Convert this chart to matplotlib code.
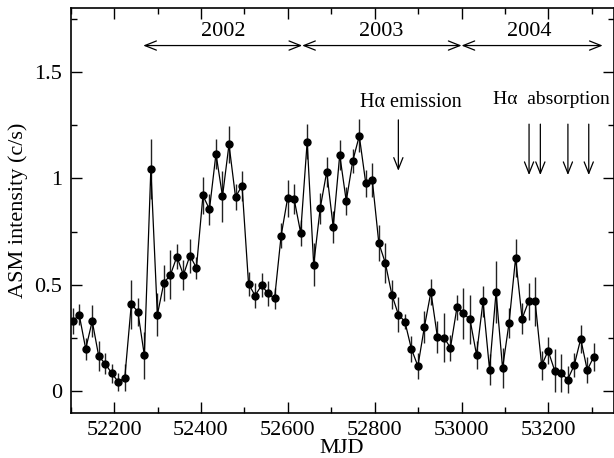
import numpy as np
import matplotlib
matplotlib.use('Agg')
import matplotlib.pyplot as plt
from matplotlib.ticker import MultipleLocator, FuncFormatter

plt.rcParams['font.family'] = ['Liberation Serif', 'DejaVu Serif']

# ASM light curve, 15-day bins
mjd = [52104.5, 52119.5, 52134.5, 52149.5, 52164.5, 52179.5, 52194.5, 52209.5, 52224.5,
       52239.5, 52254.5, 52269.5, 52284.5, 52299.5, 52314.5, 52329.5, 52344.5, 52359.5,
       52374.5, 52389.5, 52404.5, 52419.5, 52434.5, 52449.5, 52464.5, 52479.5, 52494.5,
       52509.5, 52524.5, 52539.5, 52554.5, 52569.5, 52584.5, 52599.5, 52614.5, 52629.5,
       52644.5, 52659.5, 52674.5, 52689.5, 52704.5, 52719.5, 52734.5, 52749.5, 52764.5,
       52779.5, 52794.5, 52809.5, 52824.5, 52839.5, 52854.5, 52869.5, 52884.5, 52899.5,
       52914.5, 52929.5, 52944.5, 52959.5, 52974.5, 52989.5, 53004.5, 53019.5, 53034.5,
       53049.5, 53064.5, 53079.5, 53094.5, 53109.5, 53124.5, 53139.5, 53154.5, 53169.5,
       53184.5, 53199.5, 53214.5, 53229.5, 53244.5, 53259.5, 53274.5, 53289.5, 53304.5]
rate = [0.33, 0.36, 0.20, 0.33, 0.165, 0.13, 0.085, 0.045, 0.065,
        0.41, 0.375, 0.17, 1.044, 0.36, 0.51, 0.547, 0.633, 0.547,
        0.638, 0.58, 0.92, 0.855, 1.116, 0.916, 1.16, 0.913, 0.966,
        0.505, 0.45, 0.498, 0.46, 0.437, 0.731, 0.908, 0.903, 0.745,
        1.172, 0.595, 0.86, 1.031, 0.772, 1.111, 0.894, 1.082, 1.20,
        0.977, 0.992, 0.697, 0.603, 0.455, 0.361, 0.328, 0.20, 0.119,
        0.303, 0.467, 0.255, 0.253, 0.205, 0.395, 0.366, 0.338, 0.172,
        0.423, 0.103, 0.467, 0.109, 0.323, 0.627, 0.342, 0.423, 0.423,
        0.122, 0.191, 0.098, 0.086, 0.056, 0.123, 0.247, 0.10, 0.163]
err = [0.062, 0.05, 0.05, 0.074, 0.07, 0.05, 0.045, 0.043, 0.065,
       0.115, 0.066, 0.11, 0.14, 0.10, 0.086, 0.115, 0.06, 0.07,
       0.08, 0.05, 0.085, 0.074, 0.07, 0.12, 0.087, 0.06, 0.07,
       0.056, 0.058, 0.056, 0.06, 0.05, 0.058, 0.087, 0.069, 0.062,
       0.082, 0.10, 0.072, 0.072, 0.074, 0.07, 0.066, 0.056, 0.078,
       0.063, 0.08, 0.084, 0.092, 0.07, 0.084, 0.035, 0.062, 0.062,
       0.074, 0.06, 0.074, 0.117, 0.062, 0.058, 0.12, 0.115, 0.066,
       0.072, 0.074, 0.145, 0.094, 0.07, 0.089, 0.074, 0.086, 0.114,
       0.07, 0.064, 0.10, 0.088, 0.062, 0.057, 0.066, 0.06, 0.065]

# year ranges (arrow ends) and labels
year_edges = [52267, 52633, 53000, 53325]
year_labels = ['2002', '2003', '2004']
year_label_x = [52452, 52815, 53157]

# H-alpha observation epochs
emission_mjd = [52854.5]
absorption_mjd = [53155.5, 53181.5, 53245, 53293]

fig = plt.figure(figsize=(6.14, 4.58), dpi=100)
ax = fig.add_axes([0.1152, 0.0988, 0.8840, 0.8836])

ax.errorbar(mjd, rate, yerr=err, fmt='-o', color='black', lw=0.9,
            ms=5, ecolor='#222222', elinewidth=1.0, capsize=0)

ax.set_xlim(52100, 53350)
ax.set_ylim(-0.1, 1.8)
ax.xaxis.set_major_locator(MultipleLocator(200))
ax.xaxis.set_minor_locator(MultipleLocator(100))
ax.yaxis.set_major_locator(MultipleLocator(0.5))
ax.yaxis.set_minor_locator(MultipleLocator(0.25))
ax.yaxis.set_major_formatter(FuncFormatter(lambda v, p: '%g' % v))
ax.tick_params(which='both', direction='in', top=True, right=True,
               labelsize=16, width=1.0)
ax.tick_params(which='major', length=8, pad=6)
ax.tick_params(which='minor', length=4)
for s in ax.spines.values():
    s.set_linewidth(1.2)

ax.set_xlabel('MJD', fontsize=16, labelpad=-1)
ax.set_ylabel('ASM intensity (c/s)', fontsize=16, labelpad=5)

# year arrows
arr_y = 1.624
for a, b in zip(year_edges[:-1], year_edges[1:]):
    ax.annotate('', xy=(b, arr_y), xytext=(a, arr_y),
                arrowprops=dict(arrowstyle='<->,head_length=0.55,head_width=0.22',
                                lw=0.9, color='black', shrinkA=0, shrinkB=0,
                                mutation_scale=15))
for lx, lab in zip(year_label_x, year_labels):
    ax.text(lx, 1.69, lab, fontsize=16, ha='center', va='center')

# H-alpha markers
ax.text(52766, 1.355, 'Hα emission', fontsize=14.5, ha='left', va='center')
ax.text(53072, 1.37, 'Hα  absorption', fontsize=14, ha='left', va='center')
for m in emission_mjd:
    ax.annotate('', xy=(m, 1.036), xytext=(m, 1.275),
                arrowprops=dict(arrowstyle='->,head_length=0.55,head_width=0.22',
                                lw=0.9, color='black', shrinkA=0, shrinkB=0,
                                mutation_scale=15))
for m in absorption_mjd:
    ax.annotate('', xy=(m, 1.016), xytext=(m, 1.255),
                arrowprops=dict(arrowstyle='->,head_length=0.55,head_width=0.22',
                                lw=0.9, color='black', shrinkA=0, shrinkB=0,
                                mutation_scale=15))

fig.savefig('out.png', dpi=100)
